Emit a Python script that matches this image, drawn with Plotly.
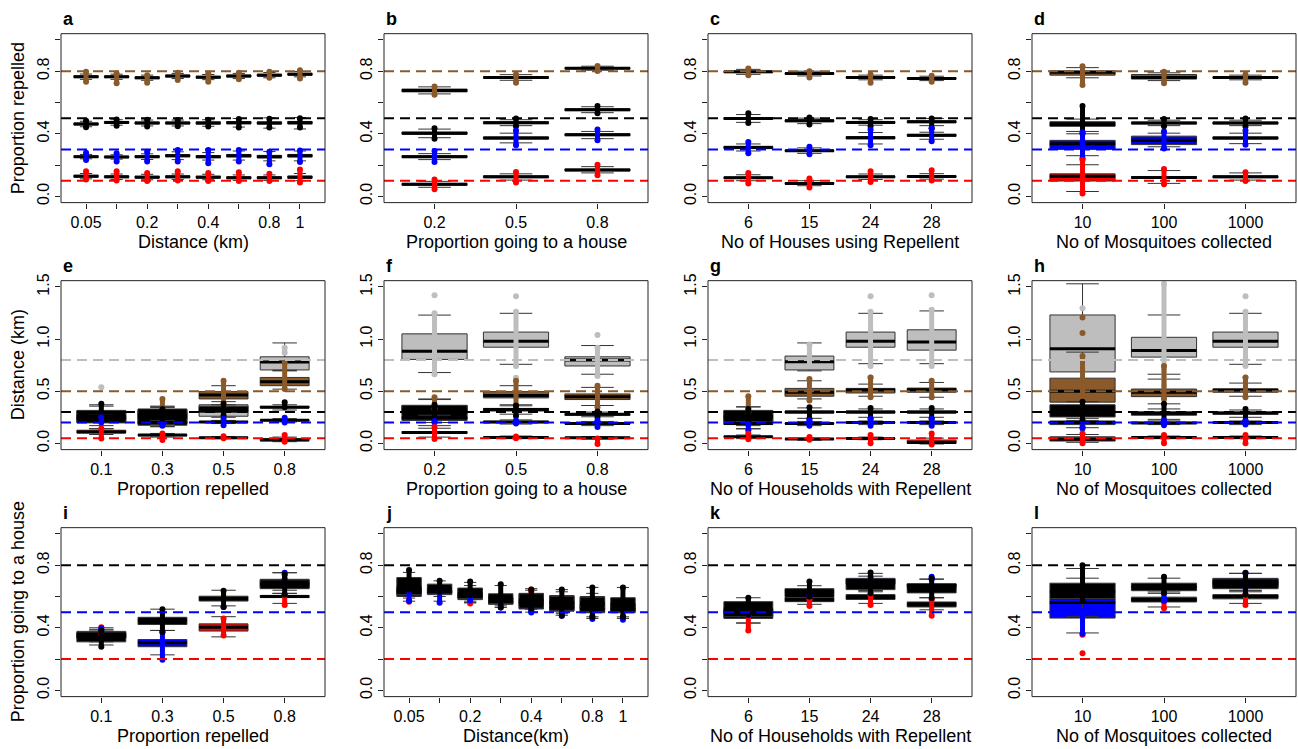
import plotly.graph_objects as go

W, H = 1298, 749
FONT = "Liberation Sans, Arial, Helvetica, sans-serif"

RED, BLUE, BLACK = "#FF0000", "#0000FF", "#000000"
BROWN, GREY = "#8B5A2B", "#BEBEBE"

# ---- x-axis tick labels (blank where the label was dropped) ----
dist_labels = ["0.05", "", "0.2", "", "0.4", "", "0.8", "1"]
house_prop_labels = ["0.2", "0.5", "0.8"]
households_labels = ["6", "15", "24", "28"]
mosq_labels = ["10", "100", "1000"]
repel_labels = ["0.1", "0.3", "0.5", "0.8"]

# ---- box statistics per category ----
# [lower whisker, q1, median, q3, upper whisker, points min, points max]
# (None = nothing drawn at that category)

# a: proportion repelled vs distance
a_brown = [[0.748, 0.759, 0.765, 0.771, 0.782, 0.733, 0.796],
           [0.748, 0.759, 0.765, 0.770, 0.781, 0.723, 0.785],
           [0.742, 0.752, 0.758, 0.764, 0.775, 0.727, 0.775],
           [0.753, 0.763, 0.769, 0.775, 0.786, 0.744, 0.790],
           [0.746, 0.756, 0.762, 0.768, 0.779, 0.733, 0.785],
           [0.753, 0.763, 0.769, 0.775, 0.786, 0.748, 0.790],
           [0.758, 0.769, 0.775, 0.781, 0.792, 0.758, 0.796],
           [0.764, 0.775, 0.781, 0.787, 0.798, 0.754, 0.806]]
a_black = [[0.445, 0.456, 0.462, 0.469, 0.480, 0.442, 0.483],
           [0.455, 0.467, 0.473, 0.479, 0.490, 0.452, 0.492],
           [0.450, 0.463, 0.469, 0.475, 0.488, 0.446, 0.490],
           [0.450, 0.463, 0.469, 0.475, 0.488, 0.448, 0.488],
           [0.448, 0.462, 0.469, 0.476, 0.490, 0.446, 0.490],
           [0.443, 0.464, 0.471, 0.478, 0.498, 0.440, 0.494],
           [0.436, 0.462, 0.469, 0.476, 0.502, 0.440, 0.496],
           [0.431, 0.463, 0.471, 0.479, 0.504, 0.440, 0.500]]
a_blue = [[0.240, 0.249, 0.254, 0.259, 0.268, 0.233, 0.279],
          [0.238, 0.247, 0.252, 0.257, 0.266, 0.223, 0.275],
          [0.236, 0.248, 0.254, 0.260, 0.272, 0.223, 0.285],
          [0.235, 0.253, 0.260, 0.267, 0.285, 0.223, 0.296],
          [0.232, 0.247, 0.254, 0.261, 0.280, 0.212, 0.296],
          [0.232, 0.252, 0.260, 0.268, 0.290, 0.223, 0.296],
          [0.227, 0.246, 0.254, 0.262, 0.287, 0.206, 0.285],
          [0.227, 0.252, 0.260, 0.268, 0.290, 0.219, 0.294]]
a_red = [[0.112, 0.123, 0.129, 0.135, 0.146, 0.108, 0.160],
         [0.108, 0.119, 0.125, 0.131, 0.143, 0.102, 0.160],
         [0.106, 0.117, 0.123, 0.129, 0.141, 0.098, 0.150],
         [0.108, 0.119, 0.125, 0.131, 0.143, 0.102, 0.160],
         [0.106, 0.117, 0.123, 0.129, 0.141, 0.098, 0.150],
         [0.102, 0.113, 0.119, 0.125, 0.137, 0.098, 0.154],
         [0.102, 0.113, 0.119, 0.125, 0.137, 0.098, 0.144],
         [0.100, 0.116, 0.123, 0.130, 0.146, 0.088, 0.171]]

# b: proportion repelled vs proportion going to a house
b_brown = [[0.655, 0.668, 0.677, 0.686, 0.700, 0.650, 0.702],
           [0.742, 0.755, 0.760, 0.765, 0.778, 0.727, 0.779],
           [0.806, 0.815, 0.819, 0.823, 0.832, 0.802, 0.833]]
b_black = [[0.375, 0.397, 0.404, 0.411, 0.430, 0.369, 0.435],
           [0.452, 0.465, 0.471, 0.477, 0.490, 0.448, 0.498],
           [0.535, 0.548, 0.554, 0.560, 0.573, 0.531, 0.577]]
b_blue = [[0.235, 0.248, 0.254, 0.260, 0.273, 0.219, 0.290],
          [0.342, 0.366, 0.373, 0.380, 0.404, 0.327, 0.421],
          [0.369, 0.388, 0.394, 0.400, 0.415, 0.358, 0.427]]
b_red = [[0.058, 0.071, 0.077, 0.083, 0.096, 0.046, 0.108],
         [0.104, 0.119, 0.125, 0.131, 0.144, 0.088, 0.156],
         [0.150, 0.163, 0.169, 0.175, 0.190, 0.135, 0.202]]

# c: proportion repelled vs number of houses using repellent
c_brown = [[0.780, 0.791, 0.796, 0.801, 0.812, 0.775, 0.817],
           [0.770, 0.780, 0.785, 0.790, 0.800, 0.760, 0.800],
           [0.745, 0.755, 0.760, 0.765, 0.775, 0.727, 0.779],
           [0.740, 0.750, 0.754, 0.758, 0.768, 0.733, 0.771]]
c_black = [[0.473, 0.492, 0.498, 0.504, 0.523, 0.469, 0.531],
           [0.465, 0.477, 0.483, 0.489, 0.500, 0.460, 0.504],
           [0.455, 0.467, 0.473, 0.479, 0.490, 0.448, 0.494],
           [0.452, 0.471, 0.477, 0.483, 0.498, 0.435, 0.498]]
c_blue = [[0.290, 0.305, 0.312, 0.320, 0.335, 0.275, 0.348],
          [0.275, 0.287, 0.292, 0.297, 0.310, 0.269, 0.317],
          [0.335, 0.368, 0.375, 0.382, 0.408, 0.327, 0.427],
          [0.365, 0.384, 0.390, 0.396, 0.410, 0.352, 0.435]]
c_red = [[0.100, 0.114, 0.119, 0.124, 0.138, 0.083, 0.150],
         [0.068, 0.078, 0.083, 0.088, 0.100, 0.056, 0.115],
         [0.108, 0.120, 0.125, 0.130, 0.143, 0.092, 0.160],
         [0.110, 0.122, 0.127, 0.132, 0.145, 0.102, 0.167]]

# d: proportion repelled vs number of mosquitoes collected
d_brown = [[0.758, 0.775, 0.794, 0.802, 0.823, 0.712, 0.831],
           [0.740, 0.750, 0.760, 0.779, 0.790, 0.723, 0.796],
           [0.745, 0.756, 0.760, 0.764, 0.775, 0.727, 0.779]]
d_black = [[0.415, 0.448, 0.460, 0.477, 0.494, 0.400, 0.577],
           [0.452, 0.463, 0.469, 0.475, 0.487, 0.448, 0.494],
           [0.452, 0.463, 0.469, 0.475, 0.487, 0.446, 0.498]]
d_blue = [[0.260, 0.300, 0.337, 0.358, 0.400, 0.244, 0.410],
          [0.317, 0.331, 0.358, 0.385, 0.404, 0.306, 0.415],
          [0.337, 0.366, 0.373, 0.380, 0.404, 0.330, 0.421]]
d_red = [[0.031, 0.098, 0.129, 0.144, 0.202, 0.019, 0.233],
         [0.083, 0.115, 0.121, 0.127, 0.165, 0.077, 0.175],
         [0.104, 0.119, 0.125, 0.131, 0.150, 0.098, 0.154]]

# e: distance vs proportion repelled
e_grey = [[0.140, 0.200, 0.260, 0.310, 0.370, None, None],
          [0.160, 0.190, 0.250, 0.320, 0.350, None, None],
          [0.200, 0.260, 0.310, 0.370, 0.450, None, None],
          [0.695, 0.704, 0.780, 0.830, 0.963, 0.868, 0.916]]
e_brown = [None,
           [0.200, 0.230, 0.270, 0.310, 0.345, 0.347, 0.426],
           [0.370, 0.426, 0.464, 0.496, 0.553, 0.330, 0.600],
           [0.520, 0.553, 0.590, 0.632, 0.700, 0.521, 0.774]]
e_black = [[0.110, 0.196, 0.240, 0.316, 0.357, 0.221, 0.379],
           [0.160, 0.174, 0.250, 0.330, 0.357, 0.200, 0.330],
           [0.250, 0.300, 0.330, 0.357, 0.400, 0.268, 0.379],
           [0.320, 0.340, 0.347, 0.355, 0.370, 0.347, 0.395]]
e_blue = [[0.170, 0.236, 0.243, 0.250, 0.270, 0.200, 0.250],
          [0.180, 0.190, 0.200, 0.210, 0.220, 0.168, 0.180],
          [0.190, 0.200, 0.205, 0.210, 0.220, 0.174, 0.237],
          [0.205, 0.216, 0.221, 0.226, 0.237, 0.200, 0.246]]
e_red = [[0.085, 0.100, 0.110, 0.126, 0.140, 0.047, 0.142],
         [0.060, 0.072, 0.079, 0.085, 0.095, 0.032, 0.095],
         [0.045, 0.050, 0.054, 0.058, 0.065, 0.050, 0.068],
         [0.016, 0.025, 0.032, 0.047, 0.060, 0.016, 0.079]]
e_grey_extra = [(0, 0.537)]

# f: distance vs proportion going to a house
f_grey = [[0.679, 0.805, 0.884, 1.050, 1.230, 0.663, 1.247],
          [0.758, 0.922, 0.979, 1.067, 1.247, 0.742, 1.263],
          [0.663, 0.742, 0.800, 0.830, 0.938, 0.647, 0.916]]
f_brown = [[0.260, 0.290, 0.320, 0.365, 0.426, 0.330, 0.442],
           [0.370, 0.436, 0.458, 0.496, 0.553, 0.330, 0.600],
           [0.363, 0.420, 0.448, 0.474, 0.537, 0.347, 0.553]]
f_black = [[0.170, 0.237, 0.300, 0.363, 0.420, 0.240, 0.370],
           [0.280, 0.310, 0.325, 0.335, 0.360, 0.262, 0.363],
           [0.255, 0.270, 0.278, 0.285, 0.300, 0.253, 0.306]]
f_blue = [[0.200, 0.220, 0.246, 0.250, 0.270, 0.200, 0.215],
          [0.185, 0.198, 0.205, 0.212, 0.225, 0.190, 0.220],
          [0.170, 0.185, 0.190, 0.195, 0.210, 0.158, 0.221]]
f_red = [[0.060, 0.095, 0.104, 0.113, 0.145, 0.041, 0.158],
         [0.045, 0.052, 0.057, 0.062, 0.070, 0.050, 0.065],
         [0.040, 0.050, 0.054, 0.058, 0.065, -0.005, 0.047]]
f_grey_extra = [(0, 1.420), (1, 1.410), (1, 0.630), (2, 1.039)]

# g: distance vs number of households with repellent
g_grey = [None,
          [0.695, 0.704, 0.783, 0.837, 0.963, 0.742, 0.947],
          [0.764, 0.922, 0.979, 1.067, 1.247, 0.742, 1.263],
          [0.764, 0.894, 0.973, 1.089, 1.270, 0.742, 1.280]]
g_brown = [[0.170, 0.200, 0.259, 0.310, 0.350, 0.300, 0.452],
           [0.426, 0.452, 0.489, 0.527, 0.600, 0.410, 0.616],
           [0.452, 0.483, 0.511, 0.527, 0.568, 0.442, 0.632],
           [0.442, 0.490, 0.515, 0.530, 0.584, 0.442, 0.600]]
g_black = [[0.140, 0.205, 0.250, 0.316, 0.350, 0.200, 0.330],
           [0.240, 0.290, 0.300, 0.310, 0.340, 0.237, 0.347],
           [0.250, 0.290, 0.300, 0.310, 0.330, 0.237, 0.340],
           [0.250, 0.290, 0.300, 0.310, 0.330, 0.237, 0.340]]
g_blue = [[0.140, 0.180, 0.190, 0.200, 0.210, 0.126, 0.180],
          [0.170, 0.185, 0.190, 0.195, 0.210, 0.170, 0.221],
          [0.180, 0.194, 0.199, 0.204, 0.215, 0.170, 0.237],
          [0.180, 0.194, 0.199, 0.204, 0.215, 0.170, 0.237]]
g_red = [[0.045, 0.058, 0.063, 0.068, 0.080, 0.040, 0.095],
         [0.030, 0.037, 0.041, 0.045, 0.050, 0.035, 0.060],
         [0.035, 0.043, 0.047, 0.051, 0.060, 0.000, 0.079],
         [-0.006, 0.000, 0.009, 0.032, 0.050, -0.010, 0.095]]
g_grey_extra = [(2, 1.410), (2, 0.632), (3, 1.420)]

# h: distance vs number of mosquitoes collected
h_grey = [[0.450, 0.685, 0.906, 1.231, 1.530, None, None],
          [0.663, 0.827, 0.890, 1.017, 1.231, 0.550, 1.530],
          [0.758, 0.922, 0.979, 1.067, 1.247, 0.742, 1.263]]
h_brown = [[0.220, 0.395, 0.499, 0.625, 0.875, 0.221, 0.837],
           [0.379, 0.448, 0.489, 0.521, 0.616, 0.426, 0.742],
           [0.452, 0.490, 0.511, 0.521, 0.578, 0.442, 0.632]]
h_black = [[0.200, 0.253, 0.300, 0.370, 0.400, 0.220, 0.400],
           [0.230, 0.270, 0.290, 0.300, 0.330, 0.205, 0.379],
           [0.250, 0.280, 0.290, 0.300, 0.320, 0.220, 0.330]]
h_blue = [[0.150, 0.180, 0.200, 0.215, 0.240, 0.142, 0.160],
          [0.180, 0.190, 0.196, 0.202, 0.215, 0.174, 0.221],
          [0.180, 0.193, 0.199, 0.205, 0.215, 0.180, 0.215]]
h_red = [[0.010, 0.022, 0.040, 0.063, 0.085, 0.000, 0.095],
         [0.045, 0.052, 0.057, 0.062, 0.070, 0.000, 0.079],
         [0.045, 0.052, 0.057, 0.062, 0.070, 0.000, 0.079]]
h_grey_extra = [(0, 1.295), (2, 1.410), (2, 0.632)]
h_brown_extra = [(0, 1.206), (0, 1.058)]

# i: proportion going to a house vs proportion repelled
i_red = [[0.330, 0.340, 0.360, 0.377, 0.390, 0.350, 0.404],
         None,
         [0.342, 0.379, 0.404, 0.425, 0.471, 0.350, 0.460],
         [0.556, 0.593, 0.600, 0.607, 0.640, 0.546, 0.612]]
i_blue = [[0.310, 0.330, 0.345, 0.360, 0.380, 0.385, 0.398],
          [0.227, 0.279, 0.304, 0.325, 0.383, 0.196, 0.373],
          None,
          [0.620, 0.655, 0.680, 0.710, 0.752, 0.710, 0.752]]
i_black = [[0.290, 0.310, 0.342, 0.370, 0.400, 0.279, 0.383],
           [0.383, 0.421, 0.446, 0.467, 0.519, 0.373, 0.519],
           [0.540, 0.571, 0.587, 0.602, 0.640, 0.533, 0.637],
           [0.620, 0.650, 0.680, 0.706, 0.752, 0.612, 0.740]]
i_blue_extra = [(2, 0.533)]

# j: proportion going to a house vs distance
j_red = [[0.590, 0.620, 0.640, 0.655, 0.670, 0.567, 0.575],
         None,
         [0.560, 0.590, 0.610, 0.650, 0.670, 0.556, 0.565],
         None,
         [0.520, 0.550, 0.580, 0.620, 0.640, 0.630, 0.644],
         [0.500, 0.530, 0.560, 0.606, 0.630, None, None],
         [0.500, 0.520, 0.560, 0.600, 0.620, None, None],
         None]
j_blue = [[0.570, 0.600, 0.630, 0.650, 0.670, 0.571, 0.650],
          [0.570, 0.612, 0.630, 0.640, 0.660, 0.560, 0.633],
          [0.560, 0.580, 0.600, 0.620, 0.640, 0.575, 0.600],
          [0.530, 0.550, 0.570, 0.590, 0.610, 0.530, 0.550],
          [0.500, 0.520, 0.550, 0.580, 0.600, 0.498, 0.510],
          [0.480, 0.506, 0.530, 0.560, 0.580, 0.477, 0.490],
          [0.460, 0.496, 0.520, 0.550, 0.570, 0.456, 0.470],
          [0.460, 0.496, 0.520, 0.550, 0.570, 0.452, 0.470]]
j_black = [[0.600, 0.612, 0.660, 0.721, 0.754, 0.644, 0.769],
           [0.600, 0.623, 0.650, 0.679, 0.700, 0.630, 0.700],
           [0.570, 0.587, 0.620, 0.654, 0.690, 0.610, 0.696],
           [0.540, 0.554, 0.590, 0.617, 0.670, 0.529, 0.679],
           [0.520, 0.525, 0.570, 0.617, 0.650, 0.520, 0.644],
           [0.490, 0.512, 0.560, 0.602, 0.644, 0.477, 0.644],
           [0.470, 0.502, 0.550, 0.596, 0.658, 0.470, 0.658],
           [0.470, 0.502, 0.550, 0.592, 0.658, 0.470, 0.658]]

# k: proportion going to a house vs number of households with repellent
k_red = [[0.430, 0.460, 0.497, 0.520, 0.550, 0.383, 0.477],
         [0.550, 0.567, 0.580, 0.596, 0.610, 0.540, 0.581],
         [0.556, 0.581, 0.595, 0.612, 0.630, 0.546, 0.608],
         [0.515, 0.533, 0.550, 0.565, 0.592, 0.477, 0.581]]
k_blue = [[0.480, 0.497, 0.502, 0.507, 0.520, 0.480, 0.510],
          [0.590, 0.600, 0.606, 0.612, 0.620, 0.600, 0.610],
          [0.640, 0.680, 0.700, 0.716, 0.730, 0.710, 0.727],
          [0.650, 0.660, 0.670, 0.682, 0.710, 0.710, 0.727]]
k_black = [[0.431, 0.471, 0.520, 0.567, 0.592, 0.487, 0.592],
           [0.600, 0.612, 0.630, 0.650, 0.669, 0.600, 0.696],
           [0.637, 0.644, 0.680, 0.712, 0.748, 0.620, 0.754],
           [0.592, 0.623, 0.650, 0.679, 0.712, 0.590, 0.717]]

# l: proportion going to a house vs number of mosquitoes collected
l_red = [None,
         [0.533, 0.565, 0.580, 0.596, 0.620, 0.525, 0.571],
         [0.556, 0.585, 0.600, 0.612, 0.630, 0.546, 0.612]]
l_blue = [[0.367, 0.462, 0.562, 0.587, 0.717, 0.362, 0.508],
          None,
          [0.640, 0.660, 0.690, 0.716, 0.748, 0.660, 0.748]]
l_black = [[0.473, 0.587, 0.630, 0.685, 0.779, 0.571, 0.800],
           [0.629, 0.637, 0.660, 0.685, 0.717, 0.623, 0.727],
           [0.637, 0.650, 0.680, 0.712, 0.748, 0.612, 0.752]]
l_red_extra = [(0, 0.356), (0, 0.237)]
l_blue_extra = [(1, 0.571), (1, 0.590), (1, 0.617)]

# ---- panel assembly: (point colour, box fill, reference value, stats, extra points) ----
PANELS = [
    dict(letter="a", row=0, col=0, labels=dist_labels, xtitle="Distance (km)",
         ytitle="Proportion repelled", kind="prop",
         series=[(BROWN, BROWN, 0.8, a_brown, []), (BLACK, BLACK, 0.5, a_black, []),
                 (BLUE, BLUE, 0.3, a_blue, []), (RED, RED, 0.1, a_red, [])]),
    dict(letter="b", row=0, col=1, labels=house_prop_labels, xtitle="Proportion going to a house",
         ytitle=None, kind="prop",
         series=[(BROWN, BROWN, 0.8, b_brown, []), (BLACK, BLACK, 0.5, b_black, []),
                 (BLUE, BLUE, 0.3, b_blue, []), (RED, RED, 0.1, b_red, [])]),
    dict(letter="c", row=0, col=2, labels=households_labels, xtitle="No of Houses using Repellent",
         ytitle=None, kind="prop",
         series=[(BROWN, BROWN, 0.8, c_brown, []), (BLACK, BLACK, 0.5, c_black, []),
                 (BLUE, BLUE, 0.3, c_blue, []), (RED, RED, 0.1, c_red, [])]),
    dict(letter="d", row=0, col=3, labels=mosq_labels, xtitle="No of Mosquitoes collected",
         ytitle=None, kind="prop",
         series=[(BROWN, BROWN, 0.8, d_brown, []), (BLACK, BLACK, 0.5, d_black, []),
                 (BLUE, BLUE, 0.3, d_blue, []), (RED, RED, 0.1, d_red, [])]),
    dict(letter="e", row=1, col=0, labels=repel_labels, xtitle="Proportion repelled",
         ytitle="Distance (km)", kind="dist",
         series=[(GREY, GREY, 0.8, e_grey, e_grey_extra), (BROWN, BROWN, 0.5, e_brown, []),
                 (BLACK, BLACK, 0.3, e_black, []), (BLUE, BLUE, 0.2, e_blue, []),
                 (RED, RED, 0.05, e_red, [])]),
    dict(letter="f", row=1, col=1, labels=house_prop_labels, xtitle="Proportion going to a house",
         ytitle=None, kind="dist",
         series=[(GREY, GREY, 0.8, f_grey, f_grey_extra), (BROWN, BROWN, 0.5, f_brown, []),
                 (BLACK, BLACK, 0.3, f_black, []), (BLUE, BLUE, 0.2, f_blue, []),
                 (RED, RED, 0.05, f_red, [])]),
    dict(letter="g", row=1, col=2, labels=households_labels, xtitle="No of Households with Repellent",
         ytitle=None, kind="dist",
         series=[(GREY, GREY, 0.8, g_grey, g_grey_extra), (BROWN, BROWN, 0.5, g_brown, []),
                 (BLACK, BLACK, 0.3, g_black, []), (BLUE, BLUE, 0.2, g_blue, []),
                 (RED, RED, 0.05, g_red, [])]),
    dict(letter="h", row=1, col=3, labels=mosq_labels, xtitle="No of Mosquitoes collected",
         ytitle=None, kind="dist",
         series=[(GREY, GREY, 0.8, h_grey, h_grey_extra), (BROWN, BROWN, 0.5, h_brown, h_brown_extra),
                 (BLACK, BLACK, 0.3, h_black, []), (BLUE, BLUE, 0.2, h_blue, []),
                 (RED, RED, 0.05, h_red, [])]),
    dict(letter="i", row=2, col=0, labels=repel_labels, xtitle="Proportion repelled",
         ytitle="Proportion going to a house", kind="prop",
         series=[(RED, RED, 0.2, i_red, []), (BLUE, BLUE, 0.5, i_blue, i_blue_extra),
                 (BLACK, BLACK, 0.8, i_black, [])]),
    dict(letter="j", row=2, col=1, labels=dist_labels, xtitle="Distance(km)",
         ytitle=None, kind="prop",
         series=[(RED, RED, 0.2, j_red, []), (BLUE, BLUE, 0.5, j_blue, []),
                 (BLACK, BLACK, 0.8, j_black, [])]),
    dict(letter="k", row=2, col=2, labels=households_labels, xtitle="No of Households with Repellent",
         ytitle=None, kind="prop",
         series=[(RED, BLACK, 0.2, k_red, []), (BLUE, BLUE, 0.5, k_blue, []),
                 (BLACK, BLACK, 0.8, k_black, [])]),
    dict(letter="l", row=2, col=3, labels=mosq_labels, xtitle="No of Mosquitoes collected",
         ytitle=None, kind="prop",
         series=[(RED, BLACK, 0.2, l_red, l_red_extra), (BLUE, BLUE, 0.5, l_blue, l_blue_extra),
                 (BLACK, BLACK, 0.8, l_black, [])]),
]

# ---- y-axis settings for the two kinds of panel ----
Y_AXES = {
    "prop": dict(range=[-0.04, 1.04], tickvals=[0, 0.2, 0.4, 0.6, 0.8, 1.0],
                 ticktext=["0.0", "", "0.4", "", "0.8", ""]),
    "dist": dict(range=[-0.06, 1.56], tickvals=[0, 0.5, 1.0, 1.5],
                 ticktext=["0.0", "0.5", "1.0", "1.5"]),
}

# ---- page geometry (pixels) ----
COL_LEFT = [61, 384, 708, 1032]
ROW_TOP = [27, 277, 527]
PW, PH = 264, 171
HALF_BOX = 0.4
BORDER = "#333333"

fig = go.Figure()
shapes, annotations = [], []
layout_axes = {}

for k, p in enumerate(PANELS, start=1):
    r, c = p["row"], p["col"]
    left, top = COL_LEFT[c], ROW_TOP[r]
    xdom = [left / W, (left + PW) / W]
    ydom = [1 - (top + PH) / H, 1 - top / H]
    xa = "x" if k == 1 else f"x{k}"
    ya = "y" if k == 1 else f"y{k}"
    n = len(p["labels"])
    cats = list(range(1, n + 1))

    for pcol, fcol, truth, stats, extra in p["series"]:
        idx = [i for i, s in enumerate(stats) if s is not None]
        if idx:
            fig.add_trace(go.Box(
                x=[cats[i] for i in idx],
                lowerfence=[stats[i][0] for i in idx],
                q1=[stats[i][1] for i in idx],
                median=[stats[i][2] for i in idx],
                q3=[stats[i][3] for i in idx],
                upperfence=[stats[i][4] for i in idx],
                width=2 * HALF_BOX, whiskerwidth=0.5,
                fillcolor=fcol, line=dict(color=BORDER, width=1),
                boxpoints=False, xaxis=xa, yaxis=ya,
                showlegend=False, hoverinfo="skip"))
            # thick median bars
            mx, my = [], []
            for i in idx:
                mx += [cats[i] - HALF_BOX, cats[i] + HALF_BOX, None]
                my += [stats[i][2], stats[i][2], None]
            fig.add_trace(go.Scatter(x=mx, y=my, mode="lines",
                                     line=dict(color=BLACK, width=3),
                                     xaxis=xa, yaxis=ya, showlegend=False, hoverinfo="skip"))
            # stacked observation points
            px, py = [], []
            for i in idx:
                if stats[i][5] is not None:
                    px += [cats[i], cats[i], None]
                    py += [stats[i][5], stats[i][6], None]
            if px:
                fig.add_trace(go.Scatter(x=px, y=py, mode="lines+markers",
                                         line=dict(color=pcol, width=5),
                                         marker=dict(color=pcol, size=6),
                                         xaxis=xa, yaxis=ya, showlegend=False, hoverinfo="skip"))
        if extra:
            fig.add_trace(go.Scatter(x=[cats[i] for i, _ in extra], y=[v for _, v in extra],
                                     mode="markers", marker=dict(color=pcol, size=6),
                                     xaxis=xa, yaxis=ya, showlegend=False, hoverinfo="skip"))
        # reference value
        shapes.append(dict(type="line", xref=f"{xa} domain", yref=ya, x0=0, x1=1,
                           y0=truth, y1=truth, layer="above",
                           line=dict(color=pcol, width=2, dash="10px,6px")))

    # frame
    shapes.append(dict(type="rect", xref=f"{xa} domain", yref=f"{ya} domain",
                       x0=0, x1=1, y0=0, y1=1, layer="above",
                       line=dict(color="#222222", width=1)))

    xkey = "xaxis" if k == 1 else f"xaxis{k}"
    ykey = "yaxis" if k == 1 else f"yaxis{k}"
    layout_axes[xkey] = dict(
        domain=xdom, anchor=ya, range=[0.5 - 0.04 * n, n + 0.5 + 0.04 * n],
        tickmode="array", tickvals=cats, ticktext=p["labels"],
        ticks="outside", ticklen=5, tickcolor="#222222", tickwidth=1,
        showgrid=False, zeroline=False, showline=False,
        tickfont=dict(family=FONT, size=16, color="black"), fixedrange=True)
    ys = Y_AXES[p["kind"]]
    layout_axes[ykey] = dict(
        domain=ydom, anchor=xa, range=ys["range"],
        tickmode="array", tickvals=ys["tickvals"], ticktext=ys["ticktext"],
        tickangle=-90, ticks="outside", ticklen=5, tickcolor="#222222", tickwidth=1,
        showgrid=False, zeroline=False, showline=False,
        tickfont=dict(family=FONT, size=16, color="black"), fixedrange=True)

    # panel letter
    annotations.append(dict(text=f"<b>{p['letter']}</b>", xref="paper", yref="paper",
                            x=left / W, y=1 - (top - 3) / H, xanchor="left", yanchor="bottom",
                            showarrow=False, font=dict(family=FONT, size=18, color="black")))
    # x title
    annotations.append(dict(text=p["xtitle"], xref="paper", yref="paper",
                            x=(left + PW / 2) / W, y=1 - (top + PH + 40) / H,
                            xanchor="center", yanchor="middle", showarrow=False,
                            font=dict(family=FONT, size=18, color="black")))
    # y title
    if p["ytitle"]:
        annotations.append(dict(text=p["ytitle"], xref="paper", yref="paper",
                                x=18 / W, y=1 - (top + PH / 2) / H, textangle=-90,
                                xanchor="center", yanchor="middle", showarrow=False,
                                font=dict(family=FONT, size=18, color="black")))

fig.update_layout(
    width=W, height=H, margin=dict(l=0, r=0, t=0, b=0),
    paper_bgcolor="white", plot_bgcolor="white",
    boxmode="overlay", showlegend=False,
    shapes=shapes, annotations=annotations, **layout_axes)

fig.write_html("out.html")
